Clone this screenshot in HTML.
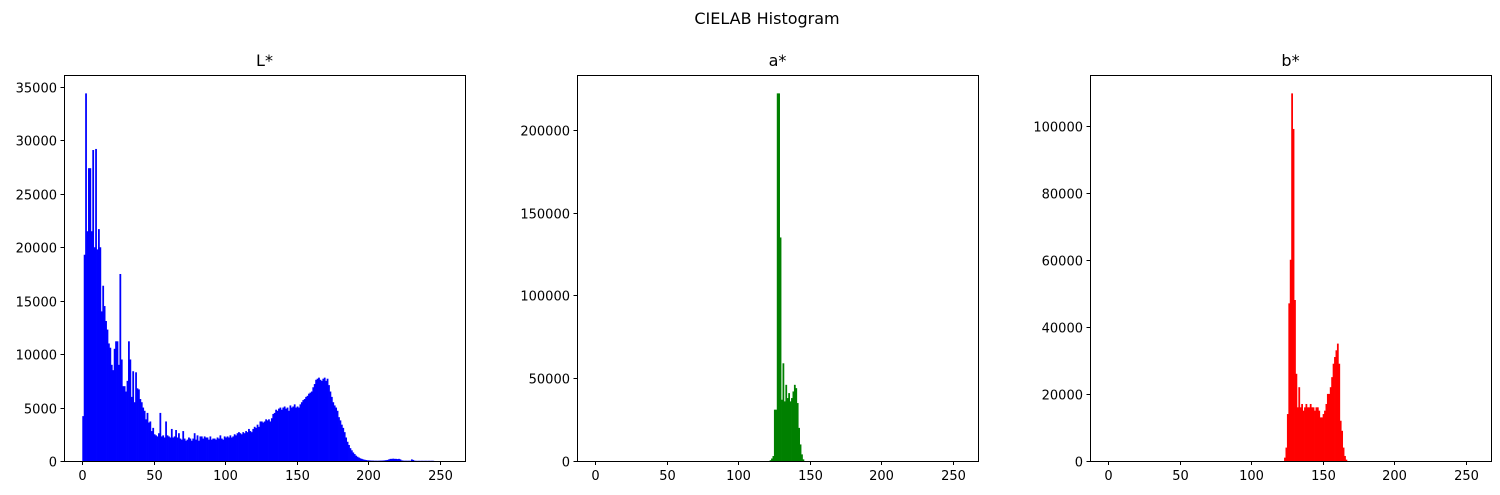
<!DOCTYPE html>
<html><head><meta charset="utf-8"><style>
html,body{margin:0;padding:0;background:#fff;}
svg{display:block;font-family:"DejaVu Sans","Liberation Sans",sans-serif;}
</style></head><body>
<svg id="fig" width="1500" height="495" viewBox="0 0 1500 495">
<text x="767" y="24" text-anchor="middle" font-size="16">CIELAB Histogram</text>
</svg>
<script>
// L* histogram counts, bins 0..255
const lValues = [
4200,19300,34400,21500,27400,27400,21500,29100,20000,29200,19800,21700,20000,14000,16400,14500,13100,12300,11000,10600,
9000,8500,10500,11200,11200,9000,17500,9500,7000,7000,6500,7500,11200,9500,6000,8400,5500,8300,6800,6700,
5800,5500,5000,4700,3900,4500,3600,3700,2800,3100,
2500,2400,2300,2600,4500,2300,2400,2200,3700,2400,2300,2200,3000,2200,2300,2900,2200,2600,2100,2000,
2800,2100,1900,2000,2200,2100,1900,2100,2600,2000,2400,1900,2300,2300,2100,2300,2200,2200,2000,2300,
2000,2100,2100,2000,2200,2100,2400,2100,2000,2300,
2200,2300,2200,2400,2200,2300,2500,2400,2600,2700,2600,2500,2700,2600,2800,2700,3000,2800,2700,3000,
3200,3100,3400,3200,3700,3700,3600,3700,3900,3800,3900,3700,4000,4400,4500,4800,4700,4900,5000,4800,
5000,5100,4900,5000,4700,5200,5000,5100,5300,5000,
5100,5000,5300,5500,5700,5800,6000,6100,6300,6400,
6500,6900,7200,7600,7700,7800,7600,7500,7700,7800,7500,7700,7100,6500,6000,5500,5200,5000,4700,4100,
3800,3400,3100,2700,2200,1800,1500,1200,1000,800,650,500,400,320,250,200,150,120,90,70,
60,50,40,40,30,30,30,30,40,40,50,60,80,100,150,200,200,220,200,200,180,200,150,60,40,30,30,30,30,30,
150,100,30,20,20,20,20,20,20,20,20,20,20,20,20,20];
// a* non-zero bins
const aBins =   [122,123,124,125,126,127,128,129,130,131,132,133,134,135,136,137,138,139,140,141,142,143,144,145];
const aValues = [500,1500,3000,31000,31000,222000,222000,135000,37000,59000,36000,46000,38000,41000,36000,38000,42000,46000,44000,35000,20000,10000,4000,1000];
// b* non-zero bins
const bBins =   [123,124,125,126,127,128,129,130,131,132,133,134,135,136,137,138,139,140,141,142,143,144,145,146,147,148,149,150,151,152,153,154,155,156,157,158,159,160,161,162,163,164,165,166];
const bValues = [1000,4000,14000,47000,60000,109600,99000,48000,26000,16000,22000,16000,17000,15000,16000,17000,16000,16000,17000,16000,16000,15000,16000,16000,15000,13000,13000,14000,15000,17000,20000,20000,22000,25000,29000,31000,33000,35000,29000,12000,9000,4000,1500,400];
const xTicks = [0,50,100,150,200,250];
const lTicks = [0,5000,10000,15000,20000,25000,30000,35000];
const aTicks = [0,50000,100000,150000,200000];
const bTicks = [0,20000,40000,60000,80000,100000];

const NS = "http://www.w3.org/2000/svg";
const svg = document.getElementById('fig');
function mk(tag, attrs, parent){const e=document.createElementNS(NS,tag);for(const k in attrs)e.setAttribute(k,attrs[k]);(parent||svg).appendChild(e);return e;}

function panel(left, title, bins, vals, yTicks, color, key){
  const top=75,bottom=461,width=401;
  const ymax=Math.max(...vals)*1.05;
  const xmin=-12.8,xmax=267.8;
  const xs=v=>left+(v-xmin)/(xmax-xmin)*width;
  const ys=v=>bottom-v/ymax*(bottom-top);
  const g=mk('g',{});
  
  
  for(let i=0;i<vals.length;i++){
    const b=bins?bins[i]:i;
    if(vals[i]<=0) continue;
    const r=mk('rect',{x:xs(b),y:ys(vals[i]),width:xs(b+1)-xs(b)+0.35,height:bottom-ys(vals[i]),fill:color},g);
    
    
  }
  const fr=mk('rect',{x:left+0.5,y:top+0.5,width:width,height:bottom-top,fill:'none',stroke:'#000','stroke-width':1},g);
  
  
  const t=mk('text',{x:left+width/2,y:66,'text-anchor':'middle','font-size':16},g);
  t.textContent=title;
  
  
  xTicks.forEach(v=>{
    const x=Math.round(xs(v))+0.5;
    mk('line',{x1:x,x2:x,y1:bottom+0.5,y2:bottom+4,stroke:'#000'},g);
    const tx=mk('text',{x:x,y:bottom+19,'text-anchor':'middle','font-size':13},g);
    tx.textContent=v;
    
    
  });
  yTicks.forEach(v=>{
    const y=Math.round(ys(v))+0.5;
    mk('line',{x1:left-3.5,x2:left+0.5,y1:y,y2:y,stroke:'#000'},g);
    const ty=mk('text',{x:left-7,y:y+5,'text-anchor':'end','font-size':13},g);
    ty.textContent=v;
    
    
  });
}
panel(64,'L*',null,lValues,lTicks,'#0000ff','l-star');
panel(577,'a*',aBins,aValues,aTicks,'#008000','a-star');
panel(1090,'b*',bBins,bValues,bTicks,'#ff0000','b-star');
</script>
</body></html>
